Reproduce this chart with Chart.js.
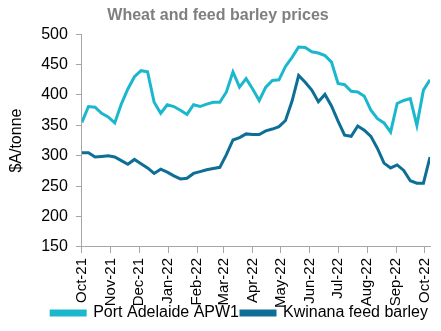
<!DOCTYPE html>
<html>
<head>
<meta charset="utf-8">
<script src="https://cdn.jsdelivr.net/npm/chart.js@4/dist/chart.umd.min.js"></script>
<style>
  body { margin: 0; background: #fff; }
  #wrap { width: 441px; height: 331px; }
</style>
</head>
<body>
<div id="wrap"><canvas id="priceChart" width="441" height="331"></canvas></div>
<script>
// weekly observations, days counted from the first one
const weekDays = [];
for (let i = 0; i < 54; i++) weekDays.push(i * 7);

const portAdelaide = [355, 381, 380, 370, 364, 354, 385, 410, 430, 440, 438, 388, 370, 384,
  381, 375, 368, 384, 381, 385, 388, 388, 405, 438, 413, 427, 410, 391, 413, 424, 425,
  447, 462, 479, 478, 471, 469, 465, 454, 419, 417, 406, 405, 398, 375, 361, 354, 339,
  386, 391, 394, 350, 408, 425];

const kwinana = [305, 305, 298, 299, 300, 298, 292, 286, 294, 287, 280, 271, 278, 273,
  267, 262, 263, 271, 274, 277, 279, 281, 302, 326, 330, 336, 335, 335, 341, 344, 348,
  358, 390, 432, 421, 408, 389, 401, 382, 357, 334, 332, 349, 342, 332, 312, 288, 280,
  285, 276, 259, 255, 255, 298];

// month ticks (day offsets) and their labels
const monthDays = [0, 31, 61, 92, 123, 151, 182, 212, 243, 273, 304, 335, 365];
const monthLabels = ['Oct-21', 'Nov-21', 'Dec-21', 'Jan-22', 'Feb-22', 'Mar-22', 'Apr-22',
  'May-22', 'Jun-22', 'Jul-22', 'Aug-22', 'Sep-22', 'Oct-22'];

const lightTeal = '#1bb8cd';
const darkTeal = '#0d6f96';
const axisGrey = '#a6a6a6';
const font = "'Liberation Sans', Arial, sans-serif";

function points(values) {
  return values.map((v, i) => ({ x: weekDays[i], y: v }));
}

// the x scale box is shrunk in afterFit; give its labels their full room back
// so they are not clipped at the bottom
const labelRoom = {
  id: 'labelRoom',
  afterLayout: function (chart) {
    chart.scales.x.bottom += 12;
  }
};

var ctx = document.getElementById('priceChart').getContext('2d');
var priceChart = new Chart(ctx, {
  type: 'line',
  data: {
    datasets: [{
      label: 'Port Adelaide APW1',
      data: points(portAdelaide),
      borderColor: lightTeal,
      backgroundColor: lightTeal,
      borderWidth: 3,
      pointRadius: 0,
      tension: 0
    }, {
      label: 'Kwinana feed barley',
      data: points(kwinana),
      borderColor: darkTeal,
      backgroundColor: darkTeal,
      borderWidth: 3,
      pointRadius: 0,
      tension: 0
    }]
  },
  plugins: [labelRoom],
  options: {
    responsive: false,
    animation: false,
    layout: { padding: { left: 6, right: 11, top: 0, bottom: 0 } },
    plugins: {
      title: {
        display: true,
        text: 'Wheat and feed barley prices',
        color: '#7f7f7f',
        font: { family: font, size: 16, weight: 'bold' },
        padding: { top: 6, bottom: 9 }
      },
      legend: {
        position: 'bottom',
        align: 'end',
        labels: {
          color: '#000',
          font: { family: font, size: 16 },
          boxWidth: 34,
          boxHeight: 4,
          padding: 2
        }
      },
      tooltip: { enabled: false }
    },
    scales: {
      x: {
        type: 'linear',
        min: 0,
        max: weekDays[weekDays.length - 1],
        afterBuildTicks: function (scale) {
          scale.ticks = monthDays.map(d => ({ value: d }));
        },
        // the month labels may run into the legend's empty top margin,
        // and the last label needs no extra room on the right
        afterFit: function (scale) {
          scale.height -= 10;
          scale.paddingRight = 0;
        },
        ticks: {
          autoSkip: false,
          maxRotation: 90,
          minRotation: 90,
          color: '#000',
          font: { family: font, size: 15 },
          padding: 5,
          callback: function (value) {
            return monthLabels[monthDays.indexOf(value)];
          }
        },
        grid: { drawOnChartArea: false, drawTicks: true, tickLength: 6, color: axisGrey },
        border: { color: axisGrey, width: 1 }
      },
      y: {
        min: 150,
        max: 500,
        ticks: {
          stepSize: 50,
          color: '#000',
          font: { family: font, size: 16 },
          padding: 8
        },
        title: {
          display: true,
          text: '$A/tonne',
          color: '#000',
          font: { family: font, size: 16 },
          padding: { top: 1, bottom: 7 }
        },
        grid: { drawOnChartArea: false, drawTicks: true, tickLength: 6, color: axisGrey },
        border: { color: axisGrey, width: 1 }
      }
    }
  }
});
</script>
</body>
</html>
